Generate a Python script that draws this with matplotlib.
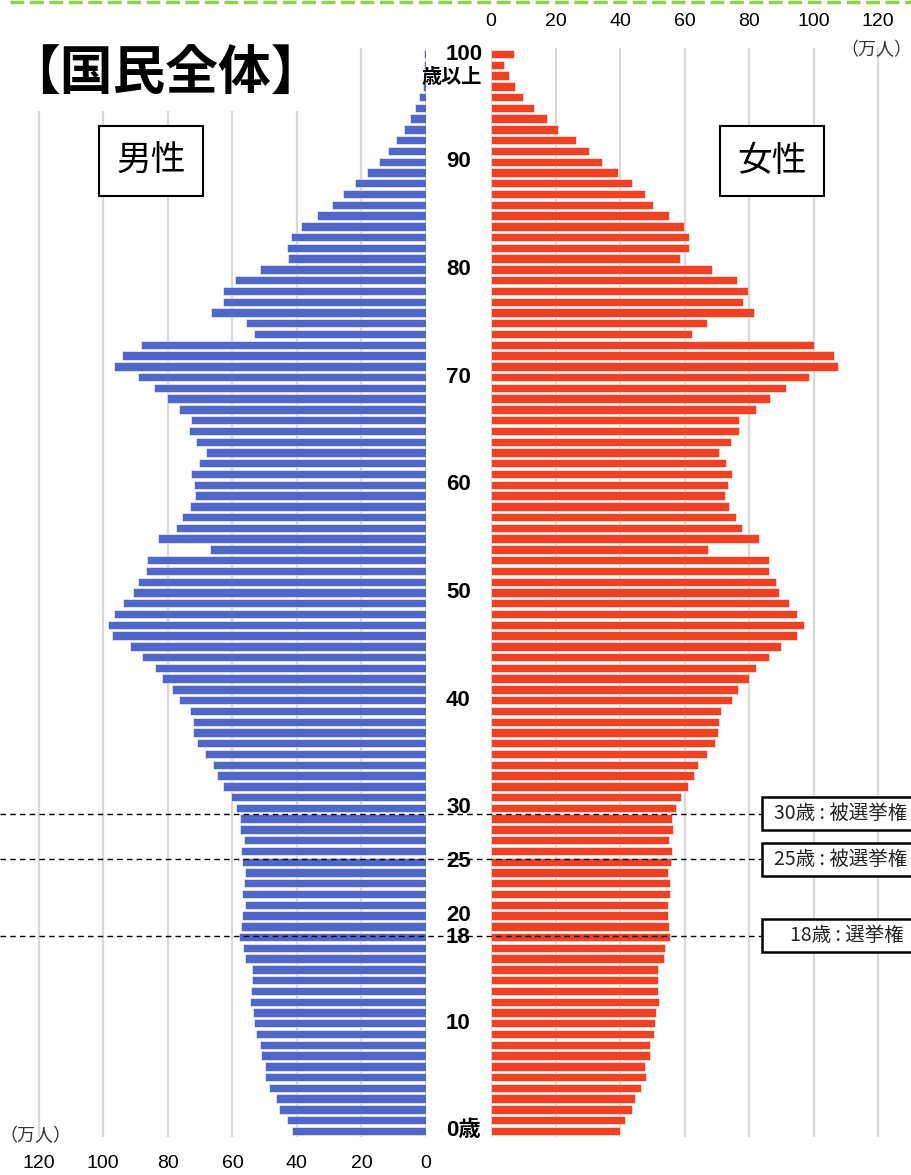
import matplotlib
matplotlib.use('Agg')
import matplotlib.pyplot as plt
import matplotlib.transforms as mtransforms
from matplotlib.lines import Line2D
from matplotlib.patches import Rectangle

plt.rcParams['font.family'] = ['Liberation Sans', 'Noto Sans CJK JP', 'DejaVu Sans']

# edad 0..100 (100 = 100歳以上), unidades: 万人
edades = list(range(101))
hombres = [41.4, 43.2, 45.5, 46.6, 48.8, 50.0, 50.0, 51.1, 51.3, 52.8,
           53.3, 53.5, 54.5, 54.3, 53.8, 54.0, 56.2, 56.8, 57.9, 57.3,
           56.9, 56.2, 56.9, 56.5, 56.2, 57.1, 57.4, 56.5, 57.7, 57.7,
           58.8, 60.3, 62.9, 64.7, 66.0, 68.6, 71.1, 72.2, 72.2, 73.2,
           76.6, 78.7, 81.8, 84.1, 88.1, 91.8, 97.2, 98.6, 96.8, 93.8,
           90.7, 89.2, 86.9, 86.6, 67.0, 83.0, 77.6, 75.5, 73.0, 71.5,
           71.8, 72.9, 70.4, 68.2, 71.4, 73.3, 72.9, 76.6, 80.3, 84.2,
           89.2, 96.8, 94.3, 88.2, 53.4, 55.7, 66.5, 62.9, 62.9, 59.1,
           51.4, 42.8, 43.1, 41.8, 38.7, 33.8, 29.0, 25.8, 22.1, 18.4,
           14.7, 11.9, 9.3, 6.8, 4.9, 3.3, 2.1, 1.0, 0.7, 0.5,
           0.7]
mujeres = [39.9, 41.5, 43.6, 44.7, 46.6, 47.9, 47.7, 49.2, 49.4, 50.4,
           50.9, 51.2, 52.2, 51.9, 51.6, 51.6, 53.6, 54.0, 55.4, 55.2,
           54.9, 54.9, 55.6, 55.4, 54.9, 55.9, 56.1, 55.2, 56.3, 56.2,
           57.4, 58.9, 61.0, 63.0, 64.2, 67.0, 69.5, 70.4, 70.6, 71.3,
           74.7, 76.6, 79.9, 82.1, 86.0, 89.8, 94.9, 96.9, 94.9, 92.3,
           89.4, 88.2, 86.1, 86.2, 67.2, 83.2, 77.9, 76.0, 73.8, 72.6,
           73.3, 74.7, 72.8, 70.7, 74.4, 76.7, 76.9, 82.0, 86.6, 91.5,
           98.4, 107.4, 106.2, 100.1, 62.4, 67.0, 81.5, 78.1, 79.5, 76.3,
           68.5, 58.5, 61.3, 61.4, 59.8, 55.2, 50.1, 47.8, 43.8, 39.5,
           34.4, 30.3, 26.3, 20.7, 17.2, 13.4, 9.9, 7.4, 5.7, 3.9,
           7.0]

ticks_x = [0, 20, 40, 60, 80, 100, 120]
edades_etiqueta = [90, 80, 70, 60, 50, 40, 30, 25, 20, 18, 10]
# lineas de edad electoral y su texto
lineas_edad = [29.45, 25.25, 18.15]
textos_edad = ['30歳 : 被選挙権', '25歳 : 被選挙権', '18歳 : 選挙権']
inicio_texto = [774, 774, 790]

W, H = 912, 1175
AZUL = '#4f67c9'
ROJO = '#f04124'
GRIS = '#d9d9d9'


def fx(px):
    return px / W


def fy(py):
    return 1 - py / H


fig = plt.figure(figsize=(W / 100, H / 100), dpi=100)
escala = 3.227  # px por 万人
ax_m = fig.add_axes([0, fy(1137), fx(426), (1137 - 48) / H])
ax_f = fig.add_axes([fx(491), fy(1137), fx(912 - 491), (1137 - 48) / H])

ax_m.barh(edades, hombres, height=0.78, color=AZUL, edgecolor='white', linewidth=0.4)
ax_f.barh(edades, mujeres, height=0.78, color=ROJO, edgecolor='white', linewidth=0.4)

ax_m.set_xlim(426 / escala, 0)
ax_f.set_xlim(0, (912 - 491) / escala)
for ax in (ax_m, ax_f):
    ax.set_ylim(-0.56, 100.56)
    ax.set_xticks(ticks_x)
    ax.set_xticklabels([str(t) for t in ticks_x], fontsize=14)
    ax.grid(axis='x', color=GRIS, linewidth=1.6)
    ax.set_axisbelow(True)
    ax.set_yticks([])
    for s in ax.spines.values():
        s.set_visible(False)
    ax.tick_params(axis='x', length=0, pad=13)
ax_f.xaxis.tick_top()

# etiquetas de edad en el centro
tr_c = mtransforms.blended_transform_factory(fig.transFigure, ax_m.transData)
for e in edades_etiqueta:
    fig.text(fx(446), e, str(e), transform=tr_c, ha='left', va='center',
             fontsize=16, fontweight='bold')
fig.text(fx(446), 100, '100', transform=tr_c, ha='left', va='center',
         fontsize=16, fontweight='bold')
fig.text(fx(452), 97.8, '歳以上', transform=tr_c, ha='center', va='center',
         fontsize=14.5, fontweight='bold')
fig.text(fx(446), 0, '0歳', transform=tr_c, ha='left', va='center',
         fontsize=16, fontweight='bold')

# unidades
fig.text(fx(876), fy(50), '（万人）', ha='center', va='center', fontsize=13, color='#333333')
fig.text(fx(35), fy(1136), '（万人）', ha='center', va='center', fontsize=13, color='#333333')

# titulo con fondo blanco que tapa la rejilla
fig.add_artist(Rectangle((0, fy(111)), fx(330), (111 - 40) / H, transform=fig.transFigure,
                         facecolor='white', edgecolor='none', zorder=1))
fig.text(fx(165), fy(74), '【国民全体】', ha='center', va='center', fontsize=38,
         fontweight='bold', family=['Noto Sans CJK JP'], zorder=2)

# cajas 男性 / 女性
for cx, txt in [(151, '男性'), (772, '女性')]:
    fig.text(fx(cx), fy(161), txt, ha='center', va='center', fontsize=25,
             family=['Noto Sans CJK JP'], zorder=3,
             bbox=dict(boxstyle='square,pad=0.5', facecolor='white',
                       edgecolor='black', linewidth=1.5))

# lineas punteadas y cajas de edades electorales
for edad, txt, x0 in zip(lineas_edad, textos_edad, inicio_texto):
    fig.add_artist(Line2D([0, fx(762)], [edad, edad], transform=tr_c, color='black',
                          linewidth=1.0, linestyle=(0, (4, 3)), zorder=3))
    fig.add_artist(Rectangle((fx(762), edad - 1.53), fx(330), 3.06, transform=tr_c,
                             facecolor='white', edgecolor='black', linewidth=1.8, zorder=3))
    fig.text(fx(x0), edad, txt, transform=tr_c, ha='left', va='center', fontsize=14,
             color='#222222', family=['Noto Sans CJK JP'], zorder=4)

# borde verde punteado arriba
fig.add_artist(Line2D([fx(10), 1], [fy(2), fy(2)], transform=fig.transFigure,
                      color='#92d050', linewidth=2.5, linestyle=(0, (4, 1.6))))

fig.savefig('out.png', dpi=100)
plt.close(fig)
